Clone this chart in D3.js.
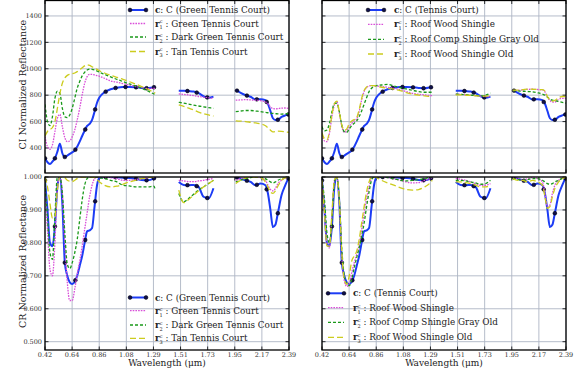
<!DOCTYPE html>
<html>
<head>
<meta charset="utf-8">
<script src="https://cdn.jsdelivr.net/npm/d3@7/dist/d3.min.js"></script>
<style>
  body { margin: 0; background: #fff; }
  svg { display: block; }
  text { font-family: "DejaVu Serif", "Liberation Serif", serif; }
</style>
</head>
<body>
<svg id="chart" width="574" height="371"></svg>
<script>
// wavelengths (um) of the sampled bands, three segments with water-band gaps
var wavelengths = [
  0.42,0.44,0.46,0.48,0.50,0.52,0.54,0.56,0.58,0.60,0.62,0.64,0.66,0.68,0.70,0.72,0.74,0.76,0.78,0.80,0.82,0.84,0.86,0.90,0.95,1.00,1.05,1.10,1.15,1.20,1.25,1.30,1.31,
  1.50,1.54,1.58,1.62,1.66,1.70,1.74,1.78,
  1.96,2.00,2.04,2.08,2.12,2.16,2.20,2.22,2.24,2.26,2.28,2.30,2.33,2.36,2.39
];
var xTickLabels = ["0.42","0.64","0.86","1.08","1.29","1.51","1.73","1.95","2.17","2.39"];
var ciTicks = [400, 600, 800, 1000, 1200, 1400];
var crTicks = [0.5, 0.6, 0.7, 0.8, 0.9, 1.0];
var blueMarkerW = [0.42,0.50,0.58,0.665,0.745,0.825,0.91,0.99,1.07,1.155,1.24,1.30, 1.57,1.645,1.73, 1.97,2.05,2.13,2.21,2.30,2.385];

var leftLabels = ["C (Green Tennis Court)", "Green Tennis Court", "Dark Green Tennis Court", "Tan Tennis Court"];
var rightLabels = ["C (Tennis Court)", "Roof Wood Shingle", "Roof Comp Shingle Gray Old", "Roof Wood Shingle Old"];

// CI normalized reflectance
var courtCI = [
  322,292,279,297,322,372,433,360,332,342,355,367,380,410,448,491,531,567,582,612,675,743,784,822,845,857,862,862,860,855,852,860,860,
  834,833,831,828,815,792,780,789,
  840,818,800,788,768,770,762,735,680,625,612,614,635,647,655
];
var greenCourtCI = [
  486,410,390,423,524,625,655,562,478,448,453,486,536,612,700,802,890,940,958,958,953,948,943,928,908,898,887,877,867,857,850,852,852,
  810,806,802,796,790,785,780,777,
  762,764,766,764,762,758,748,735,710,698,696,698,702,703,700
];
var darkGreenCourtCI = [
  730,600,569,637,776,830,814,701,637,630,650,701,776,852,903,946,973,991,998,996,991,983,973,958,938,920,903,885,870,852,832,809,805,
  746,740,733,725,718,712,706,700,
  675,680,684,684,680,676,670,667,664,662,660,658,657,658,662
];
var tanCourtCI = [
  490,525,540,555,600,700,810,890,930,950,958,962,968,978,992,1008,1022,1030,1025,1015,1005,995,985,968,950,935,920,902,885,865,845,820,815,
  726,715,702,688,672,660,650,642,
  606,604,600,595,590,582,568,552,535,522,524,528,526,522,518
];
var woodShingleCI = [
  499,453,448,511,637,726,751,663,562,519,529,562,587,605,620,675,764,827,857,870,872,872,870,865,860,852,842,827,814,807,802,797,797,
  808,806,803,800,796,792,790,789,
  834,836,840,844,845,843,840,825,785,760,748,748,768,776,776
];
var compShingleCI = [
  562,529,536,587,675,738,738,675,574,524,519,544,569,587,605,637,680,731,781,827,852,865,872,877,882,870,857,847,837,827,822,822,822,
  808,806,804,801,798,795,800,816,
  834,832,830,828,825,818,808,800,785,770,762,760,752,745,740
];
var woodShingleOldCI = [
  515,470,462,525,650,735,755,672,575,535,545,585,605,615,630,690,775,835,862,872,873,872,868,860,852,845,835,820,808,800,795,790,790,
  803,802,800,798,795,793,793,795,
  838,838,842,846,845,843,842,830,790,765,755,760,782,790,788
];

// CR normalized reflectance
var courtCR = [
  0.99,0.90,0.80,0.79,0.85,0.97,1.0,0.92,0.74,0.70,0.68,0.675,0.682,0.70,0.73,0.76,0.80,0.835,0.838,0.845,0.91,0.975,0.998,1.0,1.0,0.999,0.998,0.997,0.995,0.991,0.99,0.996,0.998,
  0.985,0.976,0.975,0.976,0.97,0.94,0.935,0.966,
  1.0,0.995,0.99,0.985,0.975,0.98,0.975,0.95,0.90,0.848,0.855,0.89,0.945,0.975,1.0
];
var greenCourtCR = [
  0.97,0.84,0.72,0.70,0.80,0.97,1.0,0.95,0.80,0.68,0.625,0.625,0.66,0.705,0.745,0.79,0.84,0.89,0.94,0.975,0.995,1.0,1.0,1.0,0.998,0.995,0.99,0.99,0.992,0.995,0.998,1.0,1.0,
  0.99,0.988,0.986,0.986,0.988,0.99,0.993,0.995,
  0.99,0.995,0.998,1.0,1.0,0.998,0.99,0.975,0.962,0.958,0.965,0.98,0.99,0.997,1.0
];
var darkGreenCourtCR = [
  0.98,0.88,0.77,0.75,0.88,1.0,1.0,0.95,0.83,0.735,0.722,0.74,0.77,0.81,0.87,0.93,0.975,0.995,1.0,1.0,1.0,1.0,0.998,0.995,0.99,0.985,0.975,0.973,0.97,0.97,0.97,0.972,0.96,
  0.95,0.925,0.935,0.948,0.96,0.97,0.98,0.99,
  0.985,0.99,0.995,0.998,1.0,1.0,0.995,0.99,0.985,0.982,0.985,0.99,0.995,0.998,1.0
];
var tanCourtCR = [
  1.0,0.97,0.92,0.875,0.88,0.96,1.0,1.0,0.998,0.99,0.987,0.986,0.99,0.995,0.998,1.0,1.0,1.0,1.0,1.0,0.998,0.992,0.985,0.975,0.97,0.972,0.978,0.985,0.99,0.995,0.998,1.0,1.0,
  0.96,0.922,0.932,0.945,0.958,0.97,0.98,0.99,
  0.98,0.99,0.997,1.0,1.0,0.998,0.985,0.97,0.955,0.95,0.958,0.972,0.99,0.998,1.0
];
var woodShingleCR = [
  0.99,0.90,0.80,0.785,0.88,0.99,1.0,0.92,0.76,0.685,0.668,0.675,0.71,0.74,0.765,0.795,0.84,0.89,0.935,0.97,0.995,1.0,1.0,1.0,0.998,0.995,0.99,0.985,0.982,0.983,0.99,0.996,1.0,
  0.995,0.993,0.99,0.985,0.98,0.975,0.975,0.98,
  1.0,0.995,0.99,0.995,0.998,0.995,0.985,0.95,0.91,0.915,0.95,0.975,0.99,0.997,1.0
];
var compShingleCR = [
  0.99,0.93,0.83,0.80,0.87,0.985,1.0,0.93,0.78,0.70,0.675,0.67,0.69,0.725,0.755,0.785,0.82,0.86,0.91,0.955,0.99,1.0,1.0,1.0,0.998,0.995,0.99,0.988,0.99,0.992,0.995,1.0,1.0,
  0.99,0.99,0.988,0.985,0.982,0.978,0.98,0.99,
  0.995,0.993,0.99,0.992,0.995,0.995,0.99,0.985,0.98,0.978,0.98,0.985,0.99,0.996,1.0
];
var woodShingleOldCR = [
  0.99,0.89,0.79,0.79,0.89,0.99,1.0,0.93,0.77,0.69,0.675,0.70,0.745,0.76,0.775,0.81,0.86,0.91,0.955,0.985,1.0,1.0,0.998,0.99,0.982,0.975,0.968,0.962,0.96,0.962,0.97,0.985,0.99,
  0.985,0.985,0.983,0.98,0.975,0.97,0.97,0.975,
  0.995,0.99,0.99,0.985,0.99,0.985,0.975,0.94,0.905,0.91,0.94,0.965,0.985,0.995,1.0
];

var styles = [
  {color: "#1c3cf5", width: 2, dash: null},
  {color: "#d94fd9", width: 1.3, dash: "1.6,1.1"},
  {color: "#1a991a", width: 1.3, dash: "3,2"},
  {color: "#cccc1e", width: 1.3, dash: "6,3"}
];

var svg = d3.select("#chart");

var colX = {left: [45, 289], right: [322, 566]};
var rowY = {top: [173, 0.5], bottom: [350, 177]};

var panels = [
  {id: "tl", col: "left", row: "top", domain: [210.6, 1517], ticks: ciTicks, fmt: d3.format("d"),
   series: [courtCI, greenCourtCI, darkGreenCourtCI, tanCourtCI], labels: leftLabels,
   legend: {x: 130, y: 10, step: [0, 13.5, 27, 41.5], tx: 25}, xLabels: false, yLabels: true, title: "CI Normalized Reflectance"},
  {id: "tr", col: "right", row: "top", domain: [210.6, 1517], ticks: ciTicks, fmt: d3.format("d"),
   series: [courtCI, woodShingleCI, compShingleCI, woodShingleOldCI], labels: rightLabels,
   legend: {x: 368, y: 10, step: [0, 14.3, 29.3, 44], tx: 26}, xLabels: false, yLabels: false},
  {id: "bl", col: "left", row: "bottom", domain: [0.4748, 1.0], ticks: crTicks, fmt: d3.format(".3f"),
   series: [courtCR, greenCourtCR, darkGreenCourtCR, tanCourtCR], labels: leftLabels,
   legend: {x: 130, y: 297.5, step: [0, 13.2, 27.5, 40.8], tx: 25}, xLabels: true, yLabels: true, title: "CR Normalized Reflectance"},
  {id: "br", col: "right", row: "bottom", domain: [0.4748, 1.0], ticks: crTicks, fmt: d3.format(".3f"),
   series: [courtCR, woodShingleCR, compShingleCR, woodShingleOldCR], labels: rightLabels,
   legend: {x: 328, y: 293.3, step: [0, 14.4, 29, 44], tx: 25}, xLabels: true, yLabels: false}
];

function segments(values) {
  var segs = [], cur = [];
  wavelengths.forEach(function(w, i) {
    if (cur.length && w - wavelengths[i - 1] > 0.1) { segs.push(cur); cur = []; }
    cur.push([w, values[i]]);
  });
  segs.push(cur);
  return segs;
}

var tickW = d3.range(10).map(function(i) { return 0.42 + i * (2.39 - 0.42) / 9; });

panels.forEach(function(p) {
  var xr = colX[p.col], yr = rowY[p.row];
  var x = d3.scaleLinear().domain([0.42, 2.39]).range(xr);
  var y = d3.scaleLinear().domain(p.domain).range(yr);
  var g = svg.append("g");

  g.append("clipPath").attr("id", "clip-" + p.id)
    .append("rect").attr("x", xr[0]).attr("y", yr[1]).attr("width", xr[1] - xr[0]).attr("height", yr[0] - yr[1]);

  // grid
  g.append("g").selectAll("line").data(tickW).enter().append("line")
    .attr("x1", function(d) { return x(d); }).attr("x2", function(d) { return x(d); })
    .attr("y1", yr[0]).attr("y2", yr[1])
    .attr("stroke", "#aeb6c4").attr("stroke-width", 0.9);
  g.append("g").selectAll("line").data(p.ticks).enter().append("line")
    .attr("y1", function(d) { return y(d); }).attr("y2", function(d) { return y(d); })
    .attr("x1", xr[0]).attr("x2", xr[1])
    .attr("stroke", "#aeb6c4").attr("stroke-width", 0.9);

  // inward ticks on all sides
  var tk = g.append("g").attr("stroke", "#000").attr("stroke-width", 0.8);
  p.ticks.forEach(function(t) {
    tk.append("line").attr("x1", xr[0]).attr("x2", xr[0] + 3.5).attr("y1", y(t)).attr("y2", y(t));
    tk.append("line").attr("x1", xr[1]).attr("x2", xr[1] - 3.5).attr("y1", y(t)).attr("y2", y(t));
  });
  tickW.forEach(function(t) {
    tk.append("line").attr("x1", x(t)).attr("x2", x(t)).attr("y1", yr[0]).attr("y2", yr[0] - 3.5);
    tk.append("line").attr("x1", x(t)).attr("x2", x(t)).attr("y1", yr[1]).attr("y2", yr[1] + 3.5);
  });

  // lines
  var line = d3.line().x(function(d) { return x(d[0]); }).y(function(d) { return y(d[1]); })
    .curve(d3.curveMonotoneX);
  var lines = g.append("g").attr("clip-path", "url(#clip-" + p.id + ")");
  p.series.forEach(function(s, i) {
    var st = styles[i];
    segments(s).forEach(function(seg) {
      lines.append("path").attr("d", line(seg)).attr("fill", "none")
        .attr("stroke", st.color).attr("stroke-width", st.width)
        .attr("stroke-dasharray", st.dash).attr("stroke-linejoin", "round");
    });
    if (i === 0) {
      var interp = d3.scaleLinear().domain(wavelengths).range(s);
      lines.selectAll("circle.mk").data(blueMarkerW).enter().append("circle")
        .attr("class", "mk")
        .attr("cx", function(d) { return x(d); })
        .attr("cy", function(d) { return y(interp(d)); })
        .attr("r", 1.9).attr("fill", "#10104a").attr("stroke", "#000").attr("stroke-width", 0.5);
    }
  });

  // frame
  g.append("rect").attr("x", xr[0]).attr("y", yr[1]).attr("width", xr[1] - xr[0]).attr("height", yr[0] - yr[1])
    .attr("fill", "none").attr("stroke", "#000").attr("stroke-width", 1.3);

  // tick labels
  if (p.yLabels) {
    g.append("g").selectAll("text").data(p.ticks).enter().append("text")
      .attr("x", xr[0] - 3).attr("y", function(d) { return y(d) + 2.3; })
      .attr("text-anchor", "end").attr("font-size", 6.5).attr("fill", "#333")
      .text(function(d) { return p.fmt(d); });
    g.append("text")
      .attr("transform", "translate(26," + ((yr[0] + yr[1]) / 2 - 2) + ") rotate(-90)")
      .attr("text-anchor", "middle").attr("font-size", 9.5).attr("fill", "#222")
      .text(p.title);
  }
  if (p.xLabels) {
    g.append("g").selectAll("text").data(tickW).enter().append("text")
      .attr("x", function(d) { return x(d); }).attr("y", yr[0] + 6.5)
      .attr("text-anchor", "middle").attr("font-size", 6.5).attr("fill", "#333")
      .text(function(d, i) { return xTickLabels[i]; });
    g.append("text")
      .attr("x", (xr[0] + xr[1]) / 2).attr("y", 365.5)
      .attr("text-anchor", "middle").attr("font-size", 9).attr("fill", "#222")
      .text("Wavelength (\u03bcm)");
  }

  // legend (no frame, grid shows through)
  var lg = g.append("g");
  p.labels.forEach(function(lab, i) {
    var st = styles[i];
    var cy = p.legend.y + p.legend.step[i];
    var x0 = p.legend.x, x1 = p.legend.x + 16;
    lg.append("line").attr("x1", x0).attr("x2", x1).attr("y1", cy).attr("y2", cy)
      .attr("stroke", st.color).attr("stroke-width", st.width).attr("stroke-dasharray", st.dash);
    if (i === 0) {
      [x0, x1].forEach(function(mx) {
        lg.append("circle").attr("cx", mx).attr("cy", cy).attr("r", 1.9)
          .attr("fill", "#10104a").attr("stroke", "#000").attr("stroke-width", 0.5);
      });
    }
    var t = lg.append("text").attr("x", x0 + p.legend.tx).attr("y", cy + 3)
      .attr("font-size", 8.8).attr("fill", "#222");
    if (i === 0) {
      t.append("tspan").attr("font-weight", "bold").text("c");
      t.append("tspan").text(": " + lab);
    } else {
      t.append("tspan").attr("font-weight", "bold").text("r");
      t.append("tspan").attr("font-size", 5).attr("dy", -3.2).text("c");
      t.append("tspan").attr("font-size", 5).attr("dx", -2.9).attr("dy", 6).text(String(i));
      t.append("tspan").attr("dy", -2.8).text(" : " + lab);
    }
  });
});
</script>
</body>
</html>
